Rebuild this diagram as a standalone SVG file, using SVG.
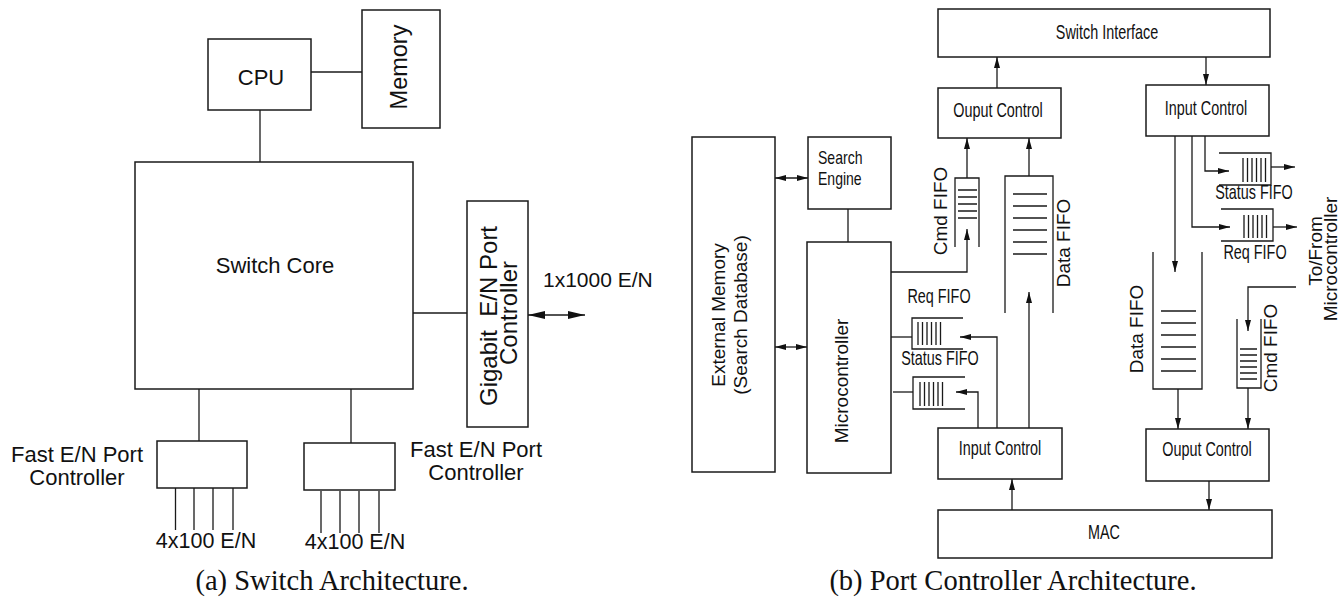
<svg xmlns="http://www.w3.org/2000/svg" width="1340" height="599" viewBox="0 0 1340 599">
<style>
.b{fill:none;stroke:#1a1a1a;stroke-width:1.5}
.l{fill:none;stroke:#1a1a1a;stroke-width:1.3}
.t{font-family:"Liberation Sans",Arial,sans-serif;fill:#111;text-anchor:middle}
.s{text-anchor:start}
.L{font-size:22px}
.R{font-size:19px}
.n{font-size:20px}
.cap{font-family:"Liberation Serif","Times New Roman",serif;font-size:28.5px;fill:#111;text-anchor:middle}
</style>
<defs>
<marker id="a" viewBox="0 0 11 6" refX="11" refY="3" markerWidth="11" markerHeight="6" markerUnits="userSpaceOnUse" orient="auto-start-reverse"><path d="M0,0 L11,3 L0,6 z" fill="#111"/></marker>
<marker id="A" viewBox="0 0 17 8" refX="17" refY="4" markerWidth="17" markerHeight="8" markerUnits="userSpaceOnUse" orient="auto-start-reverse"><path d="M0,0 L17,4 L0,8 z" fill="#111"/></marker>
</defs>
<rect width="1340" height="599" fill="#fff"/>

<!-- Left: Switch Architecture -->
<g id="cpu"><rect class="b" x="208" y="39" width="103" height="71"/><text class="t L" x="261" y="85">CPU</text></g>
<g id="memory"><rect class="b" x="362" y="10" width="78" height="118"/><text class="t" style="font-size:23.5px" transform="translate(407,67) rotate(-90)">Memory</text></g>
<g id="switch-core"><rect class="b" x="135" y="162" width="278" height="227"/><text class="t L" x="275" y="273">Switch Core</text></g>
<g id="gigabit"><rect class="b" x="467" y="201" width="61" height="226"/><text class="t" style="font-size:24px;white-space:pre" transform="translate(497,316) rotate(-90)">Gigabit  E/N Port</text><text class="t" style="font-size:24px" transform="translate(517,313) rotate(-90)">Controller</text></g>
<g id="fast1"><rect class="b" x="157" y="441" width="90" height="47"/><text class="t L" x="77" y="462">Fast E/N Port</text><text class="t L" x="77" y="485">Controller</text><text class="t" style="font-size:21.5px" x="206" y="548">4x100 E/N</text></g>
<g id="fast2"><rect class="b" x="304" y="443" width="91" height="47"/><text class="t L" x="476" y="457">Fast E/N Port</text><text class="t L" x="476" y="480">Controller</text><text class="t" style="font-size:21.5px" x="355" y="549">4x100 E/N</text></g>
<text class="t s" style="font-size:21px" x="543" y="287">1x1000 E/N</text>
<text class="cap" x="332" y="590">(a) Switch Architecture.</text>

<g id="connectors-left">
<path class="l" d="M311,72 H362"/>
<path class="l" d="M260,110 V162"/>
<path class="l" d="M413,313 H467"/>
<path class="l" d="M528,315 H585" marker-start="url(#A)" marker-end="url(#A)"/>
<path class="l" d="M199,389 V441"/>
<path class="l" d="M351,389 V443"/>
<path class="l" d="M175.5,488 V530 M194,488 V530 M213,488 V530 M233,488 V530"/>
<path class="l" d="M321,491 V533 M340,491 V533 M359,491 V533 M379,491 V533"/>
</g>

<!-- Right: Port Controller Architecture -->
<g id="switch-interface"><rect class="b" x="938" y="9" width="332" height="48"/><text class="t n" transform="translate(1107,39) scale(0.72,1)">Switch Interface</text></g>
<g id="output-control-top"><rect class="b" x="938" y="88" width="123" height="50"/><text class="t n" transform="translate(998,117) scale(0.72,1)">Ouput Control</text></g>
<g id="input-control-top"><rect class="b" x="1146" y="85" width="123" height="51"/><text class="t n" transform="translate(1206,115) scale(0.72,1)">Input Control</text></g>
<g id="search-engine"><rect class="b" x="808" y="137" width="83" height="72"/><text class="t s" style="font-size:18px" transform="translate(818,164) scale(0.78,1)">Search</text><text class="t s" style="font-size:18px" transform="translate(818,185) scale(0.78,1)">Engine</text></g>
<g id="external-memory"><rect class="b" x="692" y="137" width="83" height="335"/><text class="t R" transform="translate(725,315) rotate(-90)">External Memory</text><text class="t R" transform="translate(747,315) rotate(-90)">(Search Database)</text></g>
<g id="microcontroller"><rect class="b" x="807" y="242" width="84" height="231"/><text class="t R" transform="translate(848,381) rotate(-90)">Microcontroller</text></g>
<g id="input-control-bottom"><rect class="b" x="938" y="428" width="124" height="51"/><text class="t n" transform="translate(1000,455) scale(0.72,1)">Input Control</text></g>
<g id="output-control-bottom"><rect class="b" x="1146" y="429" width="123" height="52"/><text class="t n" transform="translate(1207,456) scale(0.72,1)">Ouput Control</text></g>
<g id="mac"><rect class="b" x="938" y="510" width="334" height="48"/><text class="t n" transform="translate(1104,539) scale(0.72,1)">MAC</text></g>

<g id="cmd-fifo-left"><path class="l" d="M955,247 V178 H979 V247"/><path class="l" d="M958,190 H977 M958,197 H977 M958,204 H977 M958,211 H977 M958,218 H977"/><text class="t R" transform="translate(947,211) rotate(-90)">Cmd FIFO</text></g>
<g id="data-fifo-left"><path class="l" d="M1005,313 V176 H1053 V313"/><path class="l" d="M1013,194 H1047 M1013,206 H1047 M1013,218 H1047 M1013,230 H1047 M1013,242 H1047 M1013,254 H1047"/><text class="t R" transform="translate(1070,243) rotate(-90)">Data FIFO</text></g>
<g id="req-fifo-left"><path class="l" d="M963,318 H912 V349 H963"/><path class="l" d="M918,322 V345 M922.5,322 V345 M927,322 V345 M931.5,322 V345 M936,322 V345 M940.5,322 V345"/><text class="t n" transform="translate(939,303) scale(0.72,1)">Req FIFO</text></g>
<g id="status-fifo-left"><path class="l" d="M965,377 H913 V409 H965"/><path class="l" d="M920,382 V406 M924.5,382 V406 M929,382 V406 M933.5,382 V406 M938,382 V406 M942.5,382 V406"/><text class="t n" transform="translate(940,365) scale(0.72,1)">Status FIFO</text></g>
<g id="status-fifo-right"><path class="l" d="M1219,153 H1271 V185 H1219"/><path class="l" d="M1243,158 V182 M1247.5,158 V182 M1252,158 V182 M1256.5,158 V182 M1261,158 V182 M1265.5,158 V182"/><text class="t n" transform="translate(1254,199) scale(0.72,1)">Status FIFO</text></g>
<g id="req-fifo-right"><path class="l" d="M1221,209 H1273 V241 H1221"/><path class="l" d="M1244,215 V238 M1248.5,215 V238 M1253,215 V238 M1257.5,215 V238 M1262,215 V238 M1266.5,215 V238"/><text class="t n" transform="translate(1255,259) scale(0.72,1)">Req FIFO</text></g>
<g id="data-fifo-right"><path class="l" d="M1153,252 V389 H1202 V252"/><path class="l" d="M1161,311 H1196 M1161,323 H1196 M1161,335 H1196 M1161,347 H1196 M1161,359 H1196 M1161,371 H1196"/><text class="t R" transform="translate(1143,329) rotate(-90)">Data FIFO</text></g>
<g id="cmd-fifo-right"><path class="l" d="M1237,319 V388 H1261 V319"/><path class="l" d="M1240,349 H1257 M1240,355 H1257 M1240,361 H1257 M1240,367 H1257 M1240,373 H1257 M1240,379 H1257"/><text class="t R" transform="translate(1277,348) rotate(-90)">Cmd FIFO</text></g>
<g id="to-from"><text class="t R" transform="translate(1322,251) rotate(-90)">To/From</text><text class="t R" transform="translate(1337,259) rotate(-90)">Microcontroller</text></g>
<text class="cap" x="1013" y="590">(b) Port Controller Architecture.</text>

<g id="connectors-right">
<path class="l" d="M997,88 V57" marker-end="url(#a)"/>
<path class="l" d="M1206,57 V85" marker-end="url(#a)"/>
<path class="l" d="M967,178 V138" marker-end="url(#a)"/>
<path class="l" d="M1029,176 V138" marker-end="url(#a)"/>
<path class="l" d="M891,272 H967 V229" marker-end="url(#a)"/>
<path class="l" d="M1029,428 V292" marker-end="url(#a)"/>
<path class="l" d="M891,337 H912"/>
<path class="l" d="M997,428 V337 H960" marker-end="url(#a)"/>
<path class="l" d="M893,392 H913"/>
<path class="l" d="M978,428 V392 H956" marker-end="url(#a)"/>
<path class="l" d="M1012,510 V479" marker-end="url(#a)"/>
<path class="l" d="M1209,481 V510" marker-end="url(#a)"/>
<path class="l" d="M1178,389 V429" marker-end="url(#a)"/>
<path class="l" d="M1248,388 V429" marker-end="url(#a)"/>
<path class="l" d="M1296,287 H1248 V331" marker-end="url(#a)"/>
<path class="l" d="M1175,136 V272" marker-end="url(#a)"/>
<path class="l" d="M1192,136 V227 H1230" marker-end="url(#a)"/>
<path class="l" d="M1205,136 V171 H1229" marker-end="url(#a)"/>
<path class="l" d="M1271,167 H1295" marker-end="url(#a)"/>
<path class="l" d="M1273,227 H1297" marker-end="url(#a)"/>
<path class="l" d="M848,209 V242"/>
<path class="l" d="M775,178 H808" marker-start="url(#a)" marker-end="url(#a)"/>
<path class="l" d="M775,347 H807" marker-start="url(#a)" marker-end="url(#a)"/>
</g>
</svg>
